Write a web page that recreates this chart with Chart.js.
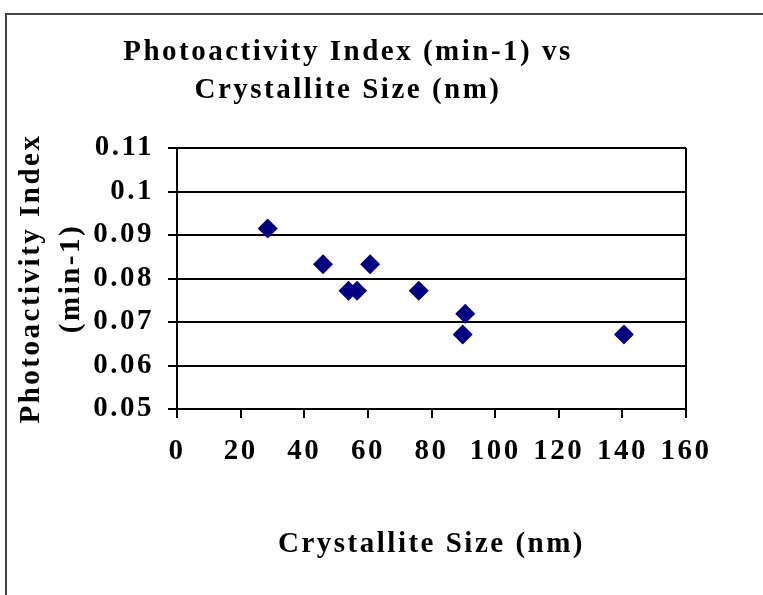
<!DOCTYPE html>
<html lang="en">
<head>
    <meta charset="UTF-8">
    <title>Photoactivity Index vs Crystallite Size</title>
    <script src="https://cdn.jsdelivr.net/npm/chart.js"></script>
    <style>
        body { margin: 0; background: #fff; }
        #myChart { display: block; }
    </style>
</head>
<body>
    <canvas id="myChart" width="763" height="595"></canvas>
    <script>
        // crystallite size (nm) and photoactivity index (min-1)
        const crystalliteSize = [28.5, 45.9, 53.9, 56.6, 60.7, 76.0, 89.8, 90.6, 140.5];
        const photoactivity = [0.0915, 0.0833, 0.0772, 0.0772, 0.0833, 0.0772, 0.0671, 0.0719, 0.0671];

        const xTicks = [0, 20, 40, 60, 80, 100, 120, 140, 160];
        const yTicks = [0.05, 0.06, 0.07, 0.08, 0.09, 0.1, 0.11];
        const yTickLabels = ['0.05', '0.06', '0.07', '0.08', '0.09', '0.1', '0.11'];

        const titleLines = ['Photoactivity Index (min-1) vs', 'Crystallite Size (nm)'];
        const yTitleLines = ['Photoactivity Index', '(min-1)'];
        const xTitle = 'Crystallite Size (nm)';

        const points = crystalliteSize.map((x, i) => ({ x: x, y: photoactivity[i] }));
        const font = { family: '"Liberation Serif", "Times New Roman", serif', size: 29, weight: 'bold' };
        const spacing = '2.5px';

        // wide letter spacing like the old excel picture + outer frame
        const framePlugin = {
            id: 'frame',
            beforeLayout(chart) {
                chart.ctx.letterSpacing = spacing;
            },
            beforeDraw(chart) {
                const c = chart.ctx;
                c.save();
                c.fillStyle = '#fff';
                c.fillRect(0, 0, chart.width, chart.height);
                c.strokeStyle = '#444';
                c.lineWidth = 2;
                c.strokeRect(6, 14, chart.width + 20, chart.height + 20);
                c.restore();
                c.letterSpacing = spacing;
            }
        };

        const ctx = document.getElementById('myChart').getContext('2d');
        new Chart(ctx, {
            type: 'scatter',
            data: {
                datasets: [{
                    label: 'Photoactivity',
                    data: points,
                    pointStyle: 'rectRot',
                    pointRadius: 10,
                    pointHoverRadius: 10,
                    backgroundColor: '#000080',
                    borderColor: '#000080',
                    borderWidth: 0
                }]
            },
            options: {
                responsive: false,
                animation: false,
                events: [],
                layout: { padding: { top: 14, left: 10, right: 77, bottom: 0 } },
                plugins: {
                    legend: { display: false },
                    tooltip: { enabled: false },
                    title: {
                        display: true,
                        text: titleLines,
                        color: '#000',
                        font: Object.assign({}, font, { lineHeight: '38px' }),
                        padding: { top: 20, bottom: 38 }
                    }
                },
                scales: {
                    x: {
                        type: 'linear',
                        min: 0,
                        max: 160,
                        afterBuildTicks: s => { s.ticks = xTicks.map(v => ({ value: v })); },
                        afterFit: s => { s.height = 186; s.paddingLeft = 0; s.paddingRight = 0; },
                        ticks: { color: '#000', font: font, padding: 16, maxRotation: 0 },
                        grid: {
                            drawOnChartArea: true,
                            color: c => (c.tick && c.tick.value === 160 ? '#000' : 'rgba(0,0,0,0)'),
                            tickColor: '#000',
                            tickLength: 9,
                            lineWidth: 2
                        },
                        border: { color: '#000', width: 2 },
                        title: {
                            display: true,
                            text: xTitle,
                            color: '#000',
                            font: font,
                            padding: { top: 0, bottom: 33 }
                        }
                    },
                    y: {
                        type: 'linear',
                        min: 0.05,
                        max: 0.11,
                        afterBuildTicks: s => { s.ticks = yTicks.map(v => ({ value: v })); },
                        afterFit: s => { s.width = 167; },
                        ticks: {
                            color: '#000',
                            font: font,
                            padding: 14,
                            callback: (v, i) => yTickLabels[i]
                        },
                        grid: { color: '#000', lineWidth: 2, tickLength: 9, tickColor: '#000' },
                        border: { color: '#000', width: 2 },
                        title: {
                            display: true,
                            text: yTitleLines,
                            color: '#000',
                            font: Object.assign({}, font, { lineHeight: '40px' }),
                            padding: { top: 2, bottom: 0 }
                        }
                    }
                }
            },
            plugins: [framePlugin]
        });
    </script>
</body>
</html>
